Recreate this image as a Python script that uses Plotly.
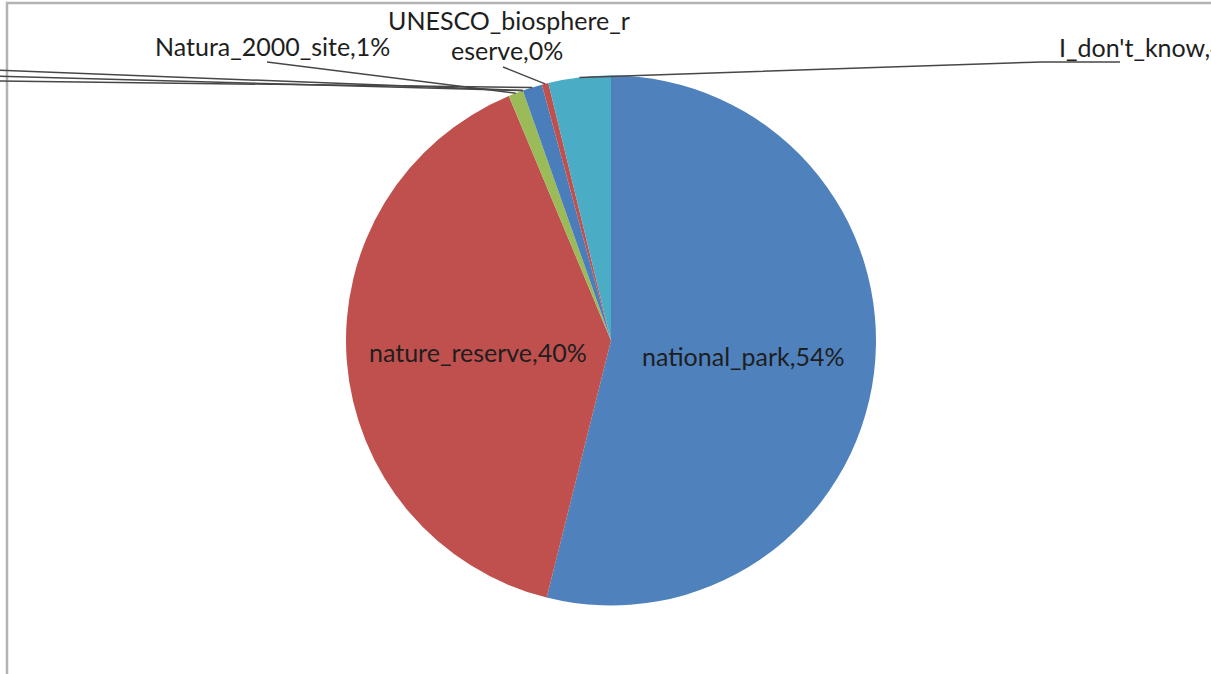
import math
import plotly.graph_objects as go

# Survey answers: type of protected area (share of responses, %)
categories = [
    "national_park",
    "nature_reserve",
    "Natura_2000_site",
    "other_a",
    "other_b",
    "other",
    "UNESCO_biosphere_reserve",
    "I_don't_know",
]
shares = [53.9, 39.8, 0.9, 0.0, 0.0, 1.2, 0.4, 3.8]
slice_colors = [
    "#4F81BD", "#C0504D", "#9BBB59", "#8064A2",
    "#F79646", "#4A7EBB", "#C0504D", "#4BACC6",
]

W, H = 1211, 674
CX, CY, R = 611, 340.5, 265          # pie centre and radius, px
FONT = "Lato, 'Open Sans', sans-serif"
TXT = "#1e1e1e"
LEADER = "#474747"

total = sum(shares)


def label_text(i):
    return f"{categories[i]},{round(100 * shares[i] / total)}%"


def px(x, y):
    """pixel position -> paper coordinates"""
    return x / W, 1 - y / H


def edge_point(i):
    """point on the rim at the middle of slice i (clockwise from 12 o'clock)"""
    start = sum(shares[:i]) / total
    mid = (start + shares[i] / total / 2) * 2 * math.pi
    return CX + R * math.sin(mid), CY - R * math.cos(mid)


fig = go.Figure(
    go.Pie(
        labels=categories,
        values=shares,
        sort=False,
        direction="clockwise",
        rotation=0,
        textinfo="none",
        hoverinfo="label+percent",
        marker=dict(colors=slice_colors, line=dict(width=0)),
        domain=dict(
            x=[(CX - R) / W, (CX + R) / W],
            y=[1 - (CY + R) / H, 1 - (CY - R) / H],
        ),
        showlegend=False,
    )
)

annotations = []
shapes = []


def add_text(text, x, y, xanchor="center"):
    ax, ay = px(x, y)
    annotations.append(dict(
        text=text, x=ax, y=ay, xref="paper", yref="paper",
        xanchor=xanchor, yanchor="middle", showarrow=False,
        font=dict(family=FONT, size=25, color=TXT),
    ))


def add_leader(points):
    path = "M " + " L ".join(
        f"{px(x, y)[0]:.5f},{px(x, y)[1]:.5f}" for x, y in points
    )
    shapes.append(dict(
        type="path", path=path, xref="paper", yref="paper",
        line=dict(color=LEADER, width=1.5),
    ))


idx = {c: i for i, c in enumerate(categories)}

# labels drawn on the two large slices
add_text(label_text(idx["nature_reserve"]), 478, 352)
add_text(label_text(idx["national_park"]), 743, 356)

# Natura 2000 label with leader line
i = idx["Natura_2000_site"]
add_text(label_text(i), 272, 46)
add_leader([(267, 62), edge_point(i)])

# UNESCO label, wrapped over two lines
i = idx["UNESCO_biosphere_reserve"]
t = label_text(i)
add_text(t[:18], 509, 20)
add_text(t[18:], 507, 50)
add_leader([(503, 67), edge_point(i)])

# "I don't know" label running past the right edge
i = idx["I_don't_know"]
add_text(label_text(i), 1057, 47, xanchor="left")
add_leader([(1120, 62), (1042, 62), edge_point(i)])

# leader lines of labels sitting beyond the left edge
for name, y_left in [("other_a", 70), ("other_b", 76), ("other", 81)]:
    add_leader([(-5, y_left), edge_point(idx[name])])

# chart-area frame (only its top and left sides fall on the page)
x0, y1 = px(7, 3)
shapes.append(dict(
    type="rect", xref="paper", yref="paper",
    x0=x0, y0=-0.1, x1=1.1, y1=y1,
    line=dict(color="#B3B3B3", width=2.5), fillcolor="rgba(0,0,0,0)",
    layer="below",
))

fig.update_layout(
    width=W, height=H,
    margin=dict(l=0, r=0, t=0, b=0),
    paper_bgcolor="white",
    plot_bgcolor="white",
    annotations=annotations,
    shapes=shapes,
)

fig.write_html("out.html")
